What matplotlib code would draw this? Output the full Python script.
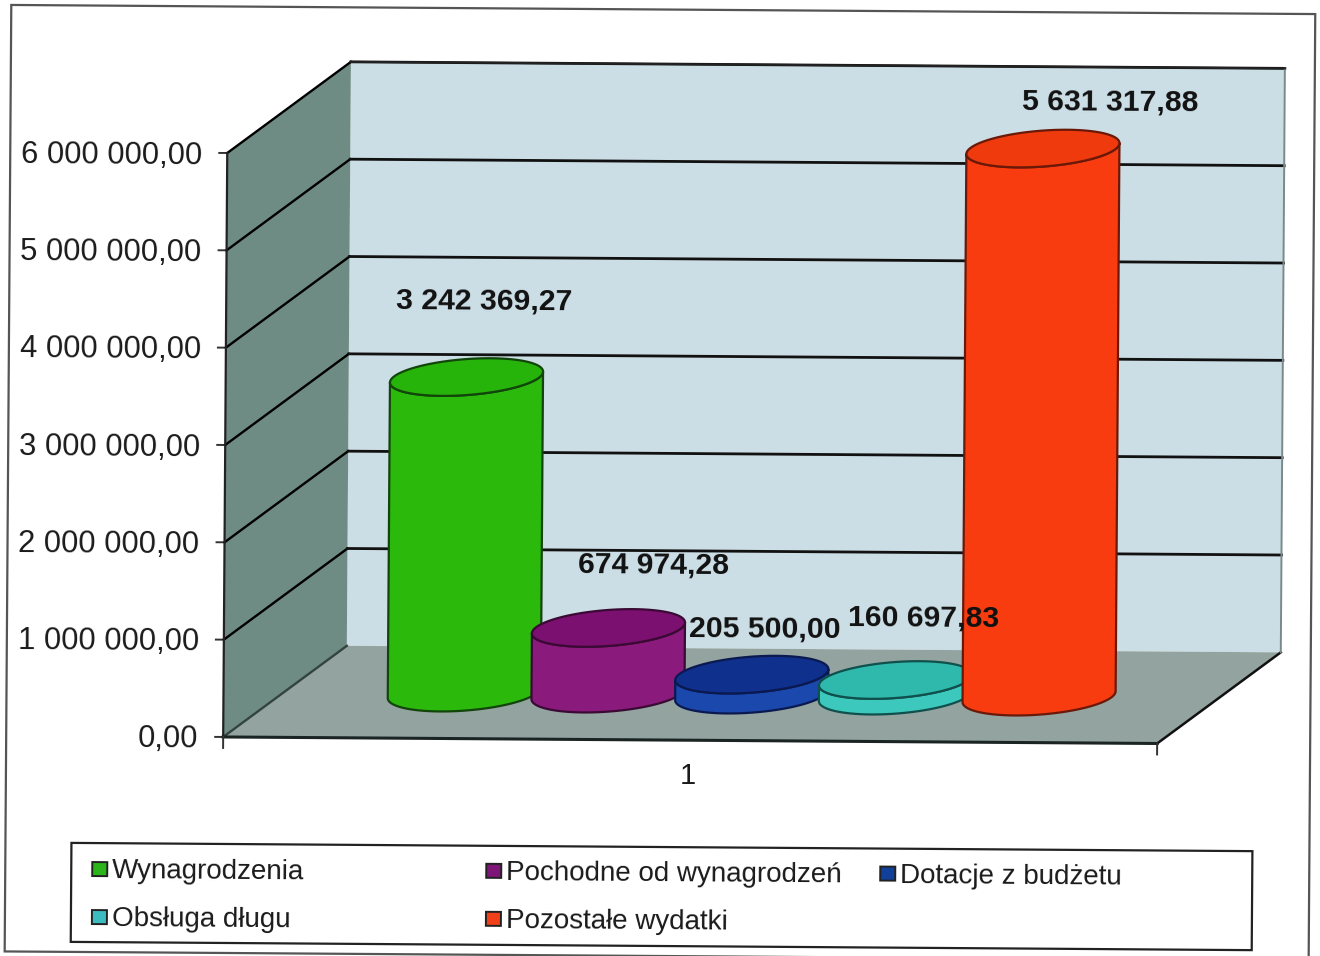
#!/usr/bin/env python3
# -*- coding: utf-8 -*-
"""
    Excel style 3D cylinder chart, scanned from paper (so slightly rotated)
"""

import numpy as np
import matplotlib
matplotlib.use('Agg')
import matplotlib.pyplot as plt
from matplotlib.patches import Polygon, Rectangle
from matplotlib.transforms import Affine2D

plt.rcParams['font.family'] = ['Liberation Sans', 'DejaVu Sans']

# Data
names = ['Wynagrodzenia', 'Pochodne od wynagrodzeń', 'Dotacje z budżetu',
         'Obsługa długu', 'Pozostałe wydatki']
values = [3242369.27, 674974.28, 205500.00, 160697.83, 5631317.88]
y_ticks = [0, 1000000, 2000000, 3000000, 4000000, 5000000, 6000000]
x_label = '1'

# Colours: side, top, outline, legend
side_col = ['#2BB90C', '#8A1A7C', '#1B48AC', '#3DC8BE', '#F83C10']
top_col = ['#27B40A', '#7C1070', '#10308E', '#2FB8AC', '#EE3A0C']
edge_col = ['#12450A', '#3A0A35', '#0A1A50', '#10504C', '#6A1808']
legend_col = ['#2BB51A', '#7E1678', '#10409A', '#3CBCC0', '#F0401A']

# Nudge of each value label from the top of its cylinder [px]
label_dx = [17, 45, 13, 28, 67]
label_dy = [-76, -63, -46, -62, -47]


def number(v):
    return f'{v:,.2f}'.replace(',', ' ').replace('.', ',')


# Scale of the chart
PX = 1 / 97.33e-6        # value per pixel
Y0 = 740                 # pixel row of value 0 on the front edge


def val(p):
    return (Y0 - p) * PX


fig = plt.figure(figsize=(13.2, 9.56), dpi=100)
ax = fig.add_axes([0, 0, 1, 1])
ax.set_xlim(0, 1320)
ax.set_ylim(val(956), val(0))
ax.axis('off')

# The scan is turned a little clockwise
tilt = ax.transData + Affine2D().rotate_deg_around(660, 478, -0.4)
ANGLE = -0.4

# Paper frame
ax.add_patch(Rectangle((8, val(956)), 1304, val(9.5) - val(956), fc='white',
                       ec='#555555', lw=1.6, clip_on=False, transform=tilt))

# Walls and floor
x_f0, x_f1 = 225, 1159
dx_d, dy_d = 123, 92 * PX
v_top = y_ticks[-1]
ax.add_patch(Polygon([(x_f0 + dx_d, dy_d), (x_f1 + dx_d, dy_d),
                      (x_f1 + dx_d, v_top + dy_d), (x_f0 + dx_d, v_top + dy_d)],
                     fc='#CBDDE5', ec='none', transform=tilt))
ax.add_patch(Polygon([(x_f0, 0), (x_f0 + dx_d, dy_d),
                      (x_f0 + dx_d, v_top + dy_d), (x_f0, v_top)],
                     fc='#6F8C84', ec='none', transform=tilt))
ax.add_patch(Polygon([(x_f0, 0), (x_f1, 0), (x_f1 + dx_d, dy_d), (x_f0 + dx_d, dy_d)],
                     fc='#93A3A0', ec='none', transform=tilt))

# Grid lines, ticks and labels of the value axis
for v in y_ticks:
    col = 'black' if v > 0 else '#33443F'
    ax.plot([x_f0 - 8, x_f0], [v, v], color='#333333', lw=1.4, transform=tilt)
    ax.plot([x_f0, x_f0 + dx_d], [v, v + dy_d], color=col, lw=1.7, transform=tilt)
    if 0 < v:
        ax.plot([x_f0 + dx_d, x_f1 + dx_d], [v + dy_d, v + dy_d], color='#111111',
                lw=2.0, transform=tilt)
    ax.text(x_f0 - 25, v - 3 * PX, number(v), ha='right', va='center', fontsize=22.3,
            color='#1A1A1A', rotation=ANGLE, rotation_mode='anchor', transform=tilt)

# Edges of the box
ax.plot([x_f0, x_f0], [0, v_top], color='#222222', lw=1.6, transform=tilt)
ax.plot([x_f0, x_f1], [0, 0], color='#1A2422', lw=2.2, transform=tilt)
ax.plot([x_f1, x_f1 + dx_d], [0, dy_d], color='#111111', lw=1.8, transform=tilt)
ax.plot([x_f1 + dx_d, x_f1 + dx_d], [dy_d, v_top + dy_d], color='#7A8A8A', lw=1.4,
        transform=tilt)
ax.plot([x_f0 + dx_d, x_f1 + dx_d], [v_top + dy_d, v_top + dy_d], color='#222222',
        lw=1.4, transform=tilt)
for xt in [x_f0, x_f1]:
    ax.plot([xt, xt], [0, val(Y0 + 11)], color='#333333', lw=1.4, transform=tilt)
ax.text((x_f0 + x_f1) / 2 - 2, val(776), x_label, ha='center', va='center', fontsize=21,
        color='#1A1A1A', transform=tilt)

# Cylinders
x_first, x_step = 465.8, 143.7
half_w = 76.5
half_h = 18 * PX
shear = 6 * PX           # left end of the ellipse sits lower than the right end
v_base = dy_d / 2

t = np.linspace(0, 2 * np.pi, 181)
for i, v in enumerate(values):
    xc = x_first + x_step * i
    vb, vt = v_base, v_base + v
    # going round: cos = 1 is the right end, sin < 0 is the lower half
    lower = np.linspace(np.pi, 2 * np.pi, 91)
    xs = xc + half_w * np.cos(lower)
    low_off = half_h * np.sin(lower) + shear * np.cos(lower)
    body = np.concatenate([np.column_stack([xs, vb + low_off]),
                           np.column_stack([xs[::-1], vt + low_off[::-1]])])
    ax.add_patch(Polygon(body, closed=True, fc=side_col[i], ec=edge_col[i], lw=1.6,
                         joinstyle='round', zorder=3, transform=tilt))
    cap = np.column_stack([xc + half_w * np.cos(t),
                           vt + half_h * np.sin(t) + shear * np.cos(t)])
    ax.add_patch(Polygon(cap, closed=True, fc=top_col[i], ec=edge_col[i], lw=1.6,
                         zorder=3, transform=tilt))

# Value labels go over all of the cylinders
for i, v in enumerate(values):
    ax.text(x_first + x_step * i + label_dx[i], v_base + v - label_dy[i] * PX, number(v),
            ha='center', va='center', fontsize=21.7, fontweight='bold', color='#111111',
            rotation=ANGLE, rotation_mode='anchor', zorder=5, transform=tilt)

# Legend
ax.add_patch(Rectangle((74, val(946)), 1181, val(847) - val(946), fc='white',
                       ec='#222222', lw=1.6, zorder=3, transform=tilt))
legend_x = [95, 489, 883, 95, 489]
legend_y = [873, 872, 872, 921, 920]
for i, name in enumerate(names):
    ax.add_patch(Rectangle((legend_x[i], val(legend_y[i] + 7)), 15, 14 * PX,
                           fc=legend_col[i], ec='#222222', lw=1.4, zorder=4, transform=tilt))
    ax.text(legend_x[i] + 20, val(legend_y[i] + 2), name, ha='left', va='center',
            fontsize=20, color='#1A1A1A', rotation=ANGLE, rotation_mode='anchor',
            zorder=4, transform=tilt)

fig.savefig('out.png', dpi=100)
